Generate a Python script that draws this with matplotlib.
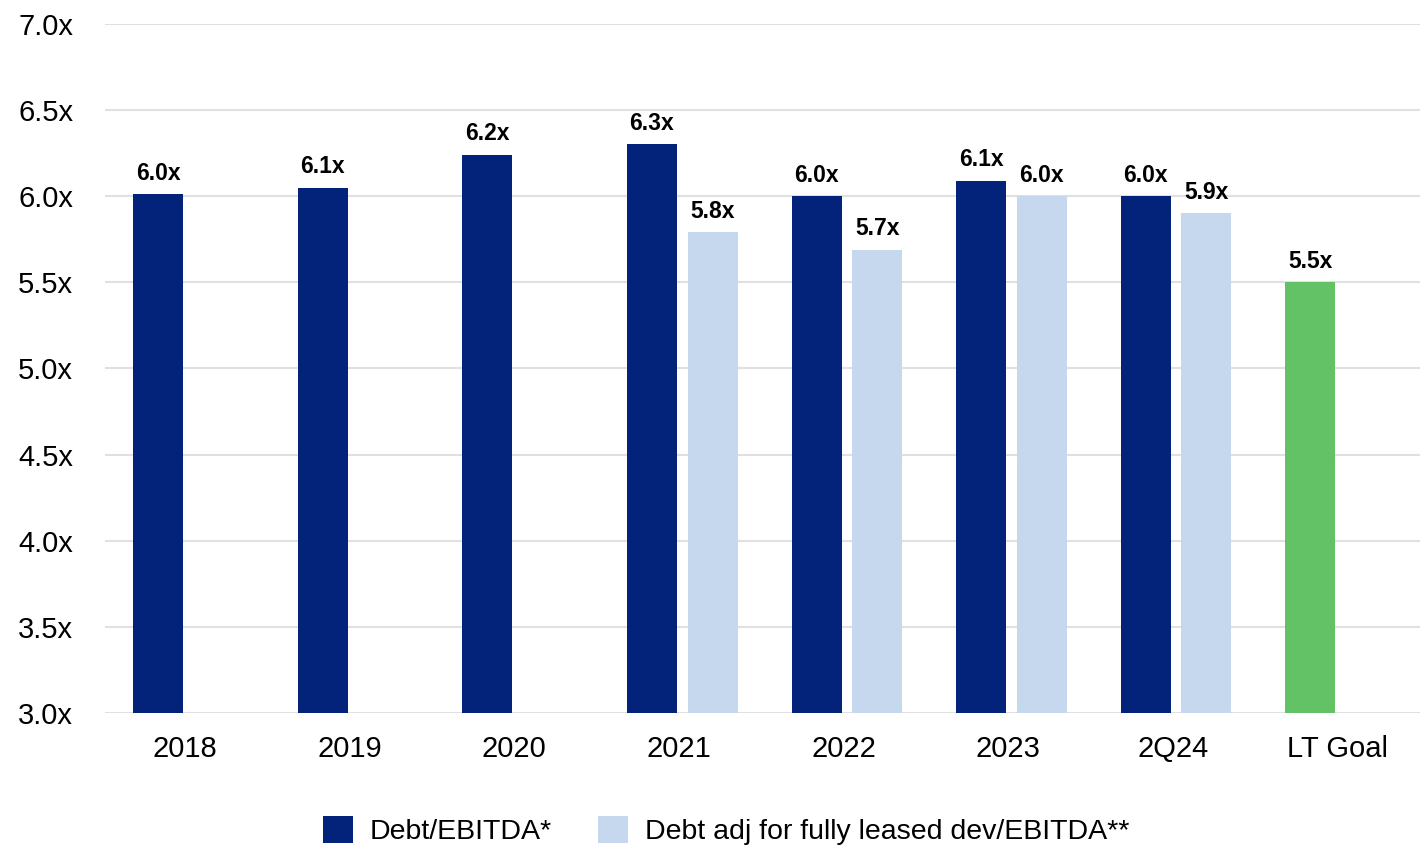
import matplotlib.pyplot as plt
import numpy as np

plt.rcParams['font.family'] = ['Liberation Sans', 'DejaVu Sans']

categories = ['2018', '2019', '2020', '2021', '2022', '2023', '2Q24', 'LT Goal']
debt_ebitda = [6.01, 6.05, 6.24, 6.30, 6.00, 6.09, 6.00]
debt_ebitda_lbl = ['6.0x', '6.1x', '6.2x', '6.3x', '6.0x', '6.1x', '6.0x']
adj_cats = ['2021', '2022', '2023', '2Q24']
debt_adj = [5.79, 5.69, 6.00, 5.90]
debt_adj_lbl = ['5.8x', '5.7x', '6.0x', '5.9x']
goal = 5.5
goal_lbl = '5.5x'

dark = '#03237A'
light = '#C5D8EE'
green = '#63C266'

fig = plt.figure(figsize=(14.21, 8.52), dpi=100)
ax = fig.add_axes([0.074, 0.163, 0.925, 0.809])

x = np.arange(len(categories))
w = 0.304
off_l = 0.163
off_r = 0.205
base = 3.0
lblsize = 16.5

# dark bars
xd = x[:len(debt_ebitda)] - off_l
b1 = ax.bar(xd, np.array(debt_ebitda) - base, w, bottom=base, color=dark, zorder=3,
            label='Debt/EBITDA*')
for xi, v, t in zip(xd, debt_ebitda, debt_ebitda_lbl):
    ax.text(xi, v + 0.055, t, ha='center', va='bottom', fontsize=lblsize, fontweight='bold')

# light bars
xl = np.array([categories.index(c) for c in adj_cats]) + off_r
b2 = ax.bar(xl, np.array(debt_adj) - base, w, bottom=base, color=light, zorder=3,
            label='Debt adj for fully leased dev/EBITDA**')
for xi, v, t in zip(xl, debt_adj, debt_adj_lbl):
    ax.text(xi, v + 0.055, t, ha='center', va='bottom', fontsize=lblsize, fontweight='bold')

# LT goal
xg = x[-1] - off_l
ax.bar(xg, goal - base, w, bottom=base, color=green, zorder=3)
ax.text(xg, goal + 0.055, goal_lbl, ha='center', va='bottom', fontsize=lblsize, fontweight='bold')

ax.set_ylim(3.0, 7.0)
ax.set_xlim(-0.485, len(categories) - 0.5)
yt = np.arange(3.0, 7.01, 0.5)
ax.set_yticks(yt)
ax.set_yticklabels(['%.1fx' % v for v in yt])
ax.set_xticks(x)
ax.set_xticklabels(categories)
ax.tick_params(axis='y', length=0, pad=23, labelsize=21)
ax.tick_params(axis='x', length=0, pad=16, labelsize=21)
ax.grid(axis='y', color='#E0E0E0', linewidth=1.5, zorder=0)
for s in ax.spines.values():
    s.set_visible(False)

fig.legend(handles=[b1, b2], loc='center', bbox_to_anchor=(0.511, 0.025), ncol=2,
           frameon=False, fontsize=20.5, handlelength=1.05, handleheight=1.05,
           columnspacing=1.6, handletextpad=0.6)

fig.savefig('out.png', dpi=100)
